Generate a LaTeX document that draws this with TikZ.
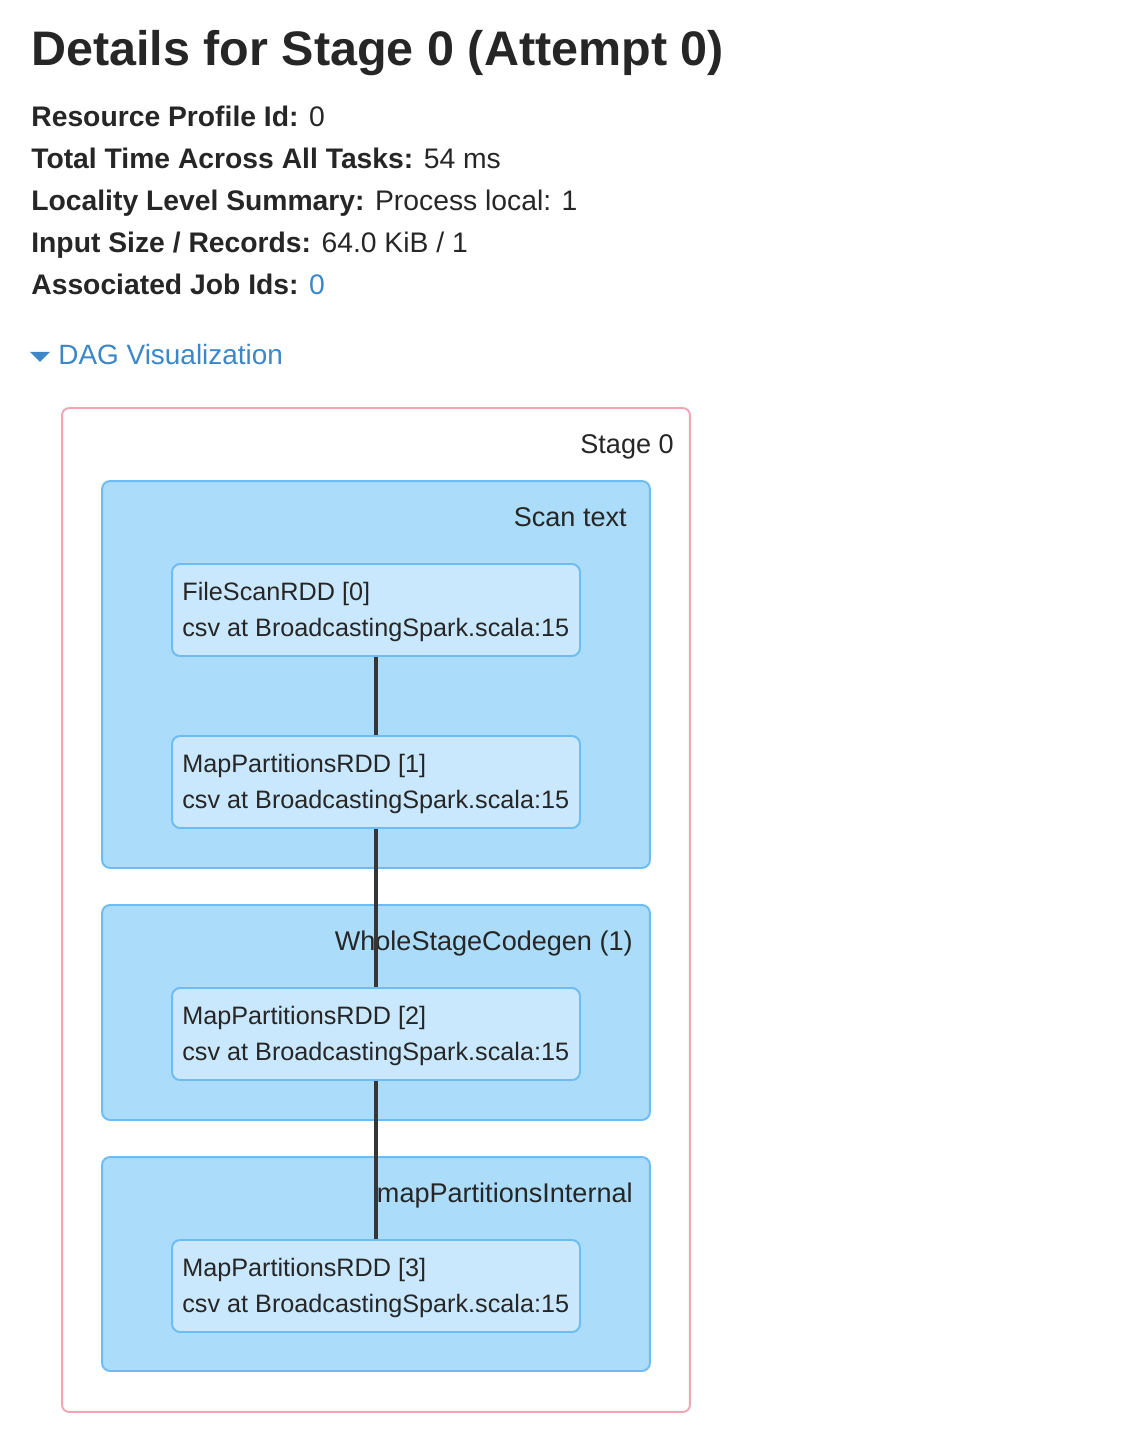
\documentclass[tikz,border=0pt]{standalone}
\usepackage{fontspec}
\setmainfont{Liberation Sans}
\definecolor{sparktext}{HTML}{262626}
\definecolor{linkblue}{HTML}{3B87C8}
\definecolor{stagepink}{HTML}{EFA7B3}
\definecolor{clusterfill}{HTML}{ABDCFA}
\definecolor{clusterline}{HTML}{6DBDF4}
\definecolor{rddfill}{HTML}{C9E8FD}
\definecolor{linkgray}{HTML}{363636}
\begin{document}
\begin{tikzpicture}[x=0.02cm,y=-0.02cm,
    every node/.style={inner sep=0, text=sparktext},
    stagebox/.style={draw=stagepink, line width=1.1pt, rounded corners=0.14cm,
      minimum width=12.56cm, minimum height=20.08cm},
    cluster/.style={draw=clusterline, fill=clusterfill, line width=1.1pt,
      rounded corners=0.16cm, minimum width=10.96cm},
    rdd/.style={draw=clusterline, fill=rddfill, line width=1.1pt, rounded corners=0.16cm,
      minimum width=8.16cm, minimum height=1.84cm},
    lbl/.style={anchor=base east, font=\fontsize{15.4}{18}\selectfont},
    rddtext/.style={anchor=base west, font=\fontsize{14.35}{17}\selectfont},
    info/.style={anchor=base west, font=\fontsize{16.1}{19}\selectfont},
    rddlink/.style={draw=linkgray, line width=2pt}]
  \useasboundingbox (0,0) rectangle (1142,1452);
  % header
  \node[anchor=base west, font=\bfseries\fontsize{27.6}{32}\selectfont] (title) at (31,66)
    {Details for Stage 0 (Attempt 0)};
  \node[info] (profile) at (31,127) {\textbf{Resource Profile Id:} 0};
  \node[info] (totaltime) at (31,169) {\textbf{Total Time Across All Tasks:} 54 ms};
  \node[info] (locality) at (31,211) {\textbf{Locality Level Summary:} Process local: 1};
  \node[info] (inputsize) at (31,253) {\textbf{Input Size / Records:} 64.0 KiB / 1};
  \node[info] (jobids) at (31,295) {\textbf{Associated Job Ids:} {\color{linkblue}0}};
  % DAG toggle
  \fill[linkblue] (30,352) -- (50,352) -- (40,362) -- cycle;
  \node[info, text=linkblue, font=\fontsize{15.9}{19}\selectfont] (dag) at (58,365) {DAG Visualization};
  % stage and clusters
  \node[stagebox] (stage) at (376,910) {};
  \node[lbl] (stagelbl) at (674,454) {Stage 0};
  \node[cluster, minimum height=7.74cm] (scantext) at (376,674.5) {};
  \node[lbl] (scanlbl) at (627,526) {Scan text};
  \node[cluster, minimum height=4.3cm] (wscg) at (376,1012.5) {};
  \node[lbl] (wscglbl) at (633,950) {WholeStageCodegen (1)};
  \node[cluster, minimum height=4.28cm] (mpi) at (376,1264) {};
  \node[lbl] (mpilbl) at (633,1202) {mapPartitionsInternal};
  % RDDs
  \node[rdd] (rdd0) at (376,610) {};
  \node[rddtext] (rdd0name) at (182,600) {FileScanRDD [0]};
  \node[rddtext] (rdd0call) at (182,636) {csv at BroadcastingSpark.scala:15};
  \node[rdd] (rdd1) at (376,782) {};
  \node[rddtext] (rdd1name) at (182,772) {MapPartitionsRDD [1]};
  \node[rddtext] (rdd1call) at (182,808) {csv at BroadcastingSpark.scala:15};
  \node[rdd] (rdd2) at (376,1034) {};
  \node[rddtext] (rdd2name) at (182,1024) {MapPartitionsRDD [2]};
  \node[rddtext] (rdd2call) at (182,1060) {csv at BroadcastingSpark.scala:15};
  \node[rdd] (rdd3) at (376,1286) {};
  \node[rddtext] (rdd3name) at (182,1276) {MapPartitionsRDD [3]};
  \node[rddtext] (rdd3call) at (182,1312) {csv at BroadcastingSpark.scala:15};
  % links
  \draw[rddlink] (rdd0.south) -- (rdd1.north);
  \draw[rddlink] (rdd1.south) -- (rdd2.north);
  \draw[rddlink] (rdd2.south) -- (rdd3.north);
\end{tikzpicture}
\end{document}
